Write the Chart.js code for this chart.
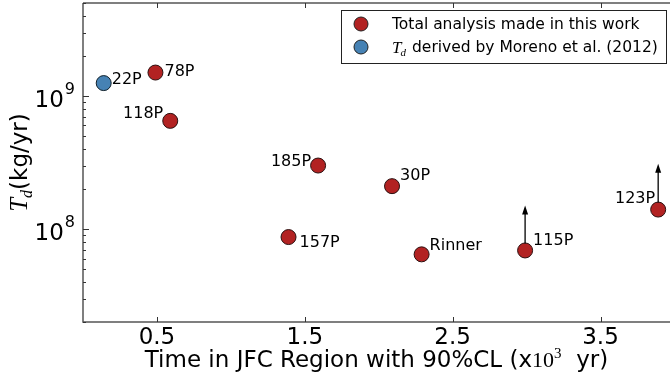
<!DOCTYPE html>
<html>
<head>
<meta charset="utf-8">
<script src="https://cdn.jsdelivr.net/npm/chart.js@4.4.1/dist/chart.umd.min.js"></script>
<style>
  html, body { margin: 0; padding: 0; background: #fff; }
  #wrap { width: 670px; height: 380px; }
</style>
</head>
<body>
<div id="wrap"><canvas id="tdChart"></canvas></div>
<script>
// comets analysed here: time spent in the JFC region (x10^3 yr) and T_d (kg/yr)
var workNames = ["78P", "118P", "185P", "157P", "30P", "Rinner", "115P", "123P"];
var workTime = [0.49, 0.59, 1.59, 1.39, 2.09, 2.29, 2.99, 3.89];
var workTd = [1.5e9, 6.5e8, 3.0e8, 8.7e7, 2.1e8, 6.45e7, 6.9e7, 1.4e8];

// value taken from Moreno et al. (2012)
var morenoNames = ["22P"];
var morenoTime = [0.14];
var morenoTd = [1.25e9];

// lower limits: arrow drawn from the point up to this value
var limitNames = ["115P", "123P"];
var limitTop = [1.5e8, 3.1e8];

var xTicks = [0.5, 1.5, 2.5, 3.5];
var yMajor = [1e8, 1e9];

var red = "#b22222";
var blue = "#4682b4";
var SANS = "'DejaVu Sans', sans-serif";
var SERIF = "'Liberation Serif', 'DejaVu Serif', serif";

// where each name sits relative to its marker: [dx, dy, align]
var labelPos = {
  "22P": [8, 1, "left"],
  "78P": [9, 3, "left"],
  "118P": [-7, -3, "right"],
  "185P": [-7, 0, "right"],
  "157P": [11, 10, "left"],
  "30P": [8, -6, "left"],
  "Rinner": [8, -4, "left"],
  "115P": [8, -5, "left"],
  "123P": [-3, -7, "right"]
};

function toPoints(xs, ys) {
  return xs.map(function (x, i) { return { x: x, y: ys[i] }; });
}

function minorTicks(lo, hi) {
  var out = [];
  for (var e = Math.floor(Math.log10(lo)); e <= Math.ceil(Math.log10(hi)); e++) {
    for (var m = 2; m < 10; m++) {
      var v = m * Math.pow(10, e);
      if (v >= lo && v <= hi) out.push(v);
    }
  }
  return out;
}

var axesPlugin = {
  id: "axesPlugin",
  afterDatasetsDraw: function (chart) {
    var ctx = chart.ctx;
    var a = chart.chartArea;
    var xs = chart.scales.x;
    var ys = chart.scales.y;
    ctx.save();

    // arrows for the lower limits
    ctx.strokeStyle = "#000";
    ctx.fillStyle = "#000";
    ctx.lineWidth = 1.3;
    limitNames.forEach(function (name, i) {
      var k = workNames.indexOf(name);
      var px = xs.getPixelForValue(workTime[k]);
      var y0 = ys.getPixelForValue(workTd[k]) - 7;
      var y1 = ys.getPixelForValue(limitTop[i]);
      ctx.beginPath();
      ctx.moveTo(px, y0);
      ctx.lineTo(px, y1 + 7);
      ctx.stroke();
      ctx.beginPath();
      ctx.moveTo(px, y1);
      ctx.lineTo(px - 3, y1 + 9);
      ctx.lineTo(px + 3, y1 + 9);
      ctx.closePath();
      ctx.fill();
    });

    // point names
    ctx.font = "16px " + SANS;
    ctx.textBaseline = "alphabetic";
    function nameIt(names, tx, ty) {
      names.forEach(function (n, i) {
        var p = labelPos[n];
        ctx.textAlign = p[2];
        ctx.fillText(n, xs.getPixelForValue(tx[i]) + p[0], ys.getPixelForValue(ty[i]) + p[1]);
      });
    }
    nameIt(workNames, workTime, workTd);
    nameIt(morenoNames, morenoTime, morenoTd);

    // spines: left, top, bottom
    ctx.strokeStyle = "#555";
    ctx.lineWidth = 1.5;
    ctx.beginPath();
    ctx.moveTo(a.left, a.top);
    ctx.lineTo(a.right, a.top);
    ctx.moveTo(a.left, a.top);
    ctx.lineTo(a.left, a.bottom);
    ctx.lineTo(a.right, a.bottom);
    ctx.stroke();

    // inward ticks
    ctx.lineWidth = 1;
    ctx.strokeStyle = "#333";
    ctx.beginPath();
    xTicks.forEach(function (t) {
      var px = Math.round(xs.getPixelForValue(t)) + 0.5;
      ctx.moveTo(px, a.bottom); ctx.lineTo(px, a.bottom - 5);
      ctx.moveTo(px, a.top); ctx.lineTo(px, a.top + 5);
    });
    yMajor.forEach(function (t) {
      var py = Math.round(ys.getPixelForValue(t)) + 0.5;
      ctx.moveTo(a.left, py); ctx.lineTo(a.left + 6, py);
    });
    minorTicks(ys.min, ys.max).forEach(function (t) {
      var py = Math.round(ys.getPixelForValue(t)) + 0.5;
      ctx.moveTo(a.left, py); ctx.lineTo(a.left + 3, py);
    });
    ctx.stroke();

    // tick labels
    ctx.fillStyle = "#000";
    ctx.font = "23px " + SANS;
    ctx.textAlign = "center";
    xTicks.forEach(function (t) {
      ctx.fillText(t.toFixed(1), xs.getPixelForValue(t), a.bottom + 22);
    });
    yMajor.forEach(function (t) {
      var py = ys.getPixelForValue(t);
      var e = String(Math.round(Math.log10(t)));
      ctx.font = "16px " + SANS;
      var ew = ctx.measureText(e).width;
      ctx.textAlign = "right";
      ctx.fillText(e, a.left - 8, py - 2);
      ctx.font = "23px " + SANS;
      ctx.fillText("10", a.left - 9 - ew, py + 11);
    });

    // x title
    var parts = [
      ["Time in JFC Region with 90%CL (x", "23px " + SANS, 0],
      ["10", "22px " + SERIF, 0],
      ["3", "15px " + SERIF, -9],
      ["  yr)", "23px " + SANS, 0]
    ];
    var total = 0;
    parts.forEach(function (p) { ctx.font = p[1]; p.push(ctx.measureText(p[0]).width); total += p[3]; });
    var cx = (a.left + a.right) / 2 - total / 2;
    ctx.textAlign = "left";
    parts.forEach(function (p) {
      ctx.font = p[1];
      ctx.fillText(p[0], cx, 367 + p[2]);
      cx += p[3];
    });

    // y title, rotated
    ctx.translate(27, (a.top + a.bottom) / 2);
    ctx.rotate(-Math.PI / 2);
    var yparts = [
      ["T", "italic 25px " + SERIF, 0],
      ["d", "italic 16px " + SERIF, 5],
      ["(kg/yr)", "23px " + SANS, 0]
    ];
    total = 0;
    yparts.forEach(function (p) { ctx.font = p[1]; p.push(ctx.measureText(p[0]).width); total += p[3]; });
    cx = -total / 2;
    yparts.forEach(function (p) {
      ctx.font = p[1];
      ctx.fillText(p[0], cx, p[2]);
      cx += p[3];
    });
    ctx.setTransform(1, 0, 0, 1, 0, 0);

    // legend box
    var lx = 341, ly = 10, lw = 325, lh = 53;
    ctx.fillStyle = "#fff";
    ctx.fillRect(lx, ly, lw, lh);
    ctx.strokeStyle = "#222";
    ctx.lineWidth = 1;
    ctx.strokeRect(lx + 0.5, ly + 0.5, lw, lh);
    chart.data.datasets.forEach(function (ds, i) {
      var my = ly + 14 + i * 23;
      ctx.beginPath();
      ctx.arc(lx + 20, my, 7, 0, Math.PI * 2);
      ctx.fillStyle = ds.backgroundColor;
      ctx.fill();
      ctx.strokeStyle = "#222";
      ctx.stroke();
      ctx.fillStyle = "#000";
      ctx.textAlign = "left";
      var tx = lx + 51;
      if (i === 1) {
        ctx.font = "italic 17px " + SERIF;
        ctx.fillText("T", tx, my + 6);
        var tw = ctx.measureText("T").width;
        ctx.font = "italic 11px " + SERIF;
        ctx.fillText("d", tx + tw - 1, my + 9);
        tx += 20;
      }
      ctx.font = "15.5px " + SANS;
      ctx.fillText(ds.label, tx, my + 5);
    });
    ctx.restore();
  }
};

new Chart("tdChart", {
  type: "scatter",
  data: {
    datasets: [
      {
        label: "Total analysis made in this work",
        data: toPoints(workTime, workTd),
        backgroundColor: red,
        borderColor: "#2a1010",
        borderWidth: 1,
        pointRadius: 7.5,
        pointHoverRadius: 7.5
      },
      {
        label: "derived by Moreno et al. (2012)",
        data: toPoints(morenoTime, morenoTd),
        backgroundColor: blue,
        borderColor: "#10202a",
        borderWidth: 1,
        pointRadius: 7.5,
        pointHoverRadius: 7.5
      }
    ]
  },
  options: {
    responsive: true,
    maintainAspectRatio: false,
    animation: false,
    layout: { autoPadding: false, padding: { left: 83, top: 3, right: 0, bottom: 58 } },
    plugins: {
      legend: { display: false },
      tooltip: { enabled: false }
    },
    scales: {
      x: { type: "linear", min: 0, max: 3.97, display: false },
      y: { type: "logarithmic", min: 2e7, max: 5e9, display: false }
    }
  },
  plugins: [axesPlugin]
});
</script>
</body>
</html>
